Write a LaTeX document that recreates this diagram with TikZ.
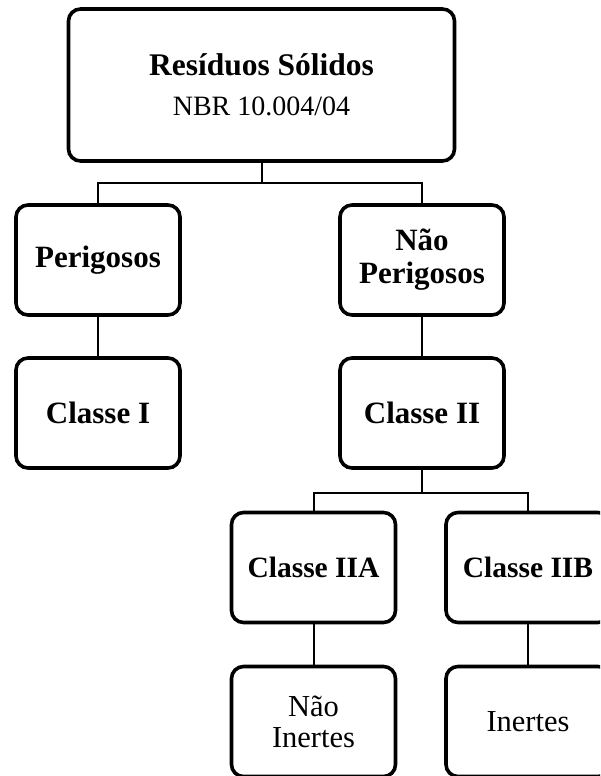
\documentclass[tikz,border=0pt]{standalone}
\usepackage{fontspec}
\setmainfont{Liberation Serif}
\usetikzlibrary{positioning,calc}

\tikzset{
	box/.style={draw,rectangle,rounded corners=12pt,line width=3.6pt,
		minimum width=164pt,minimum height=110pt,inner sep=0pt,align=center,
		font=\fontsize{30.5}{31}\selectfont},
	boldbox/.style={box,font=\fontsize{31}{33}\selectfont\bfseries},
	smallbold/.style={box,font=\fontsize{29.5}{33}\selectfont\bfseries},
	link/.style={line width=2pt}
}

\begin{document}
\begin{tikzpicture}[x=1pt,y=-1pt]
		
		\clip (0,0) rectangle (600,776);
		
		\node[box,minimum width=386pt,minimum height=152pt] (top) at (261.5,85)
		{{\fontsize{31.5}{34}\selectfont\bfseries Resíduos Sólidos}\\[9pt]{\fontsize{28}{30}\selectfont NBR 10.004/04}};
		
		\node[boldbox] (per) at (98,260) {Perigosos};
		\node[boldbox] (nper) at (422,260) {Não\\Perigosos};
		\node[boldbox] (c1) at (98,413) {Classe I};
		\node[boldbox] (c2) at (422,413) {Classe II};
		\node[smallbold] (c2a) at (313.5,567.5) {Classe IIA};
		\node[smallbold] (c2b) at (528,567.5) {Classe IIB};
		\node[box] (nin) at (313.5,721.5) {Não\\Inertes};
		\node[box] (inr) at (528,721.5) {Inertes};
		
		% ligacoes
		\draw[link] (top.south) -- ++(0,20) coordinate (f1);
		\draw[link] (per.north) |- (f1) -| (nper.north);
		\draw[link] (per) -- (c1);
		\draw[link] (nper) -- (c2);
		
		\draw[link] (c2.south) -- ++(0,23) coordinate (f2);
		\draw[link] (c2a.north) |- (f2) -| (c2b.north);
		\draw[link] (c2a) -- (nin);
		\draw[link] (c2b) -- (inr);
		
	\end{tikzpicture}
\end{document}
